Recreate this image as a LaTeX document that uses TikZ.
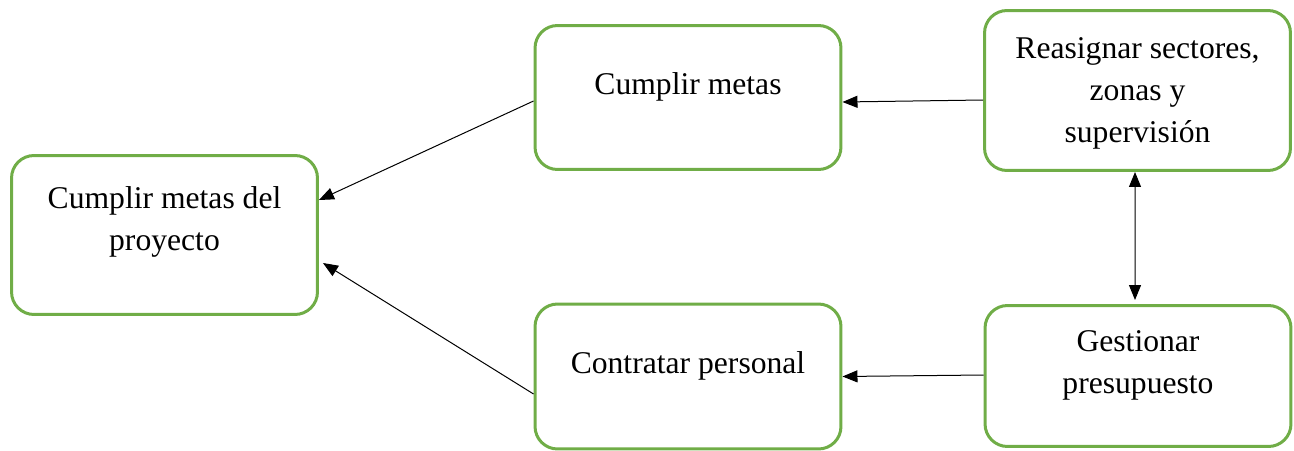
\documentclass[tikz,border=0pt]{standalone}
\usepackage{fontspec}
\setmainfont{Liberation Serif}
\usetikzlibrary{arrows.meta}
\definecolor{boxgreen}{HTML}{70AD47}
\tikzset{
  box/.style={draw=boxgreen, line width=0.06cm, rounded corners=0.45cm,
    minimum width=6.12cm, inner sep=0pt},
  boxtext/.style={anchor=base, align=center, inner sep=0pt,
    font=\fontsize{18}{23.8}\selectfont},
  link/.style={line width=0.02cm, -{Triangle[length=0.3cm, width=0.24cm]}},
  twoway/.style={line width=0.02cm,
    {Triangle[length=0.3cm, width=0.24cm]}-{Triangle[length=0.3cm, width=0.24cm]}}
}
\begin{document}
\begin{tikzpicture}[x=0.02cm, y=-0.02cm]
  \useasboundingbox (0,0) rectangle (1294,450);

  % left box
  \node[box, minimum height=3.18cm] (proyecto) at (164.5,235) {};
  \node[boxtext] (proyectotext) at (164.5,250) {Cumplir metas del\\proyecto};

  % middle boxes
  \node[box, minimum height=2.88cm] (metas) at (688,97.5) {};
  \node[boxtext] (metastext) at (688,94) {Cumplir metas};
  \node[box, minimum height=2.9cm] (personal) at (688,376.5) {};
  \node[boxtext] (personaltext) at (688,373) {Contratar personal};

  % right boxes
  \node[box, minimum height=3.2cm] (reasignar) at (1137.5,90.5) {};
  \node[boxtext] (reasignartext) at (1137.5,142)
    {Reasignar sectores,\\zonas y\\supervisión};
  \node[box, minimum height=2.82cm] (presupuesto) at (1138,376) {};
  \node[boxtext] (presupuestotext) at (1138,393) {Gestionar\\presupuesto};

  % connectors
  \draw[link] ([yshift=-0.07cm]metas.west) -- ([yshift=0.7cm]proyecto.east);
  \draw[link] ([yshift=-0.35cm]personal.west) -- ([xshift=0.08cm, yshift=-0.56cm]proyecto.east);
  \draw[link] ([yshift=-0.19cm]reasignar.west) -- ([yshift=-0.09cm]metas.east);
  \draw[link] ([yshift=0.02cm]presupuesto.west) -- (personal.east);
  \draw[twoway] ([xshift=-0.05cm]reasignar.south) -- ([xshift=-0.06cm, yshift=0.08cm]presupuesto.north);
\end{tikzpicture}
\end{document}
